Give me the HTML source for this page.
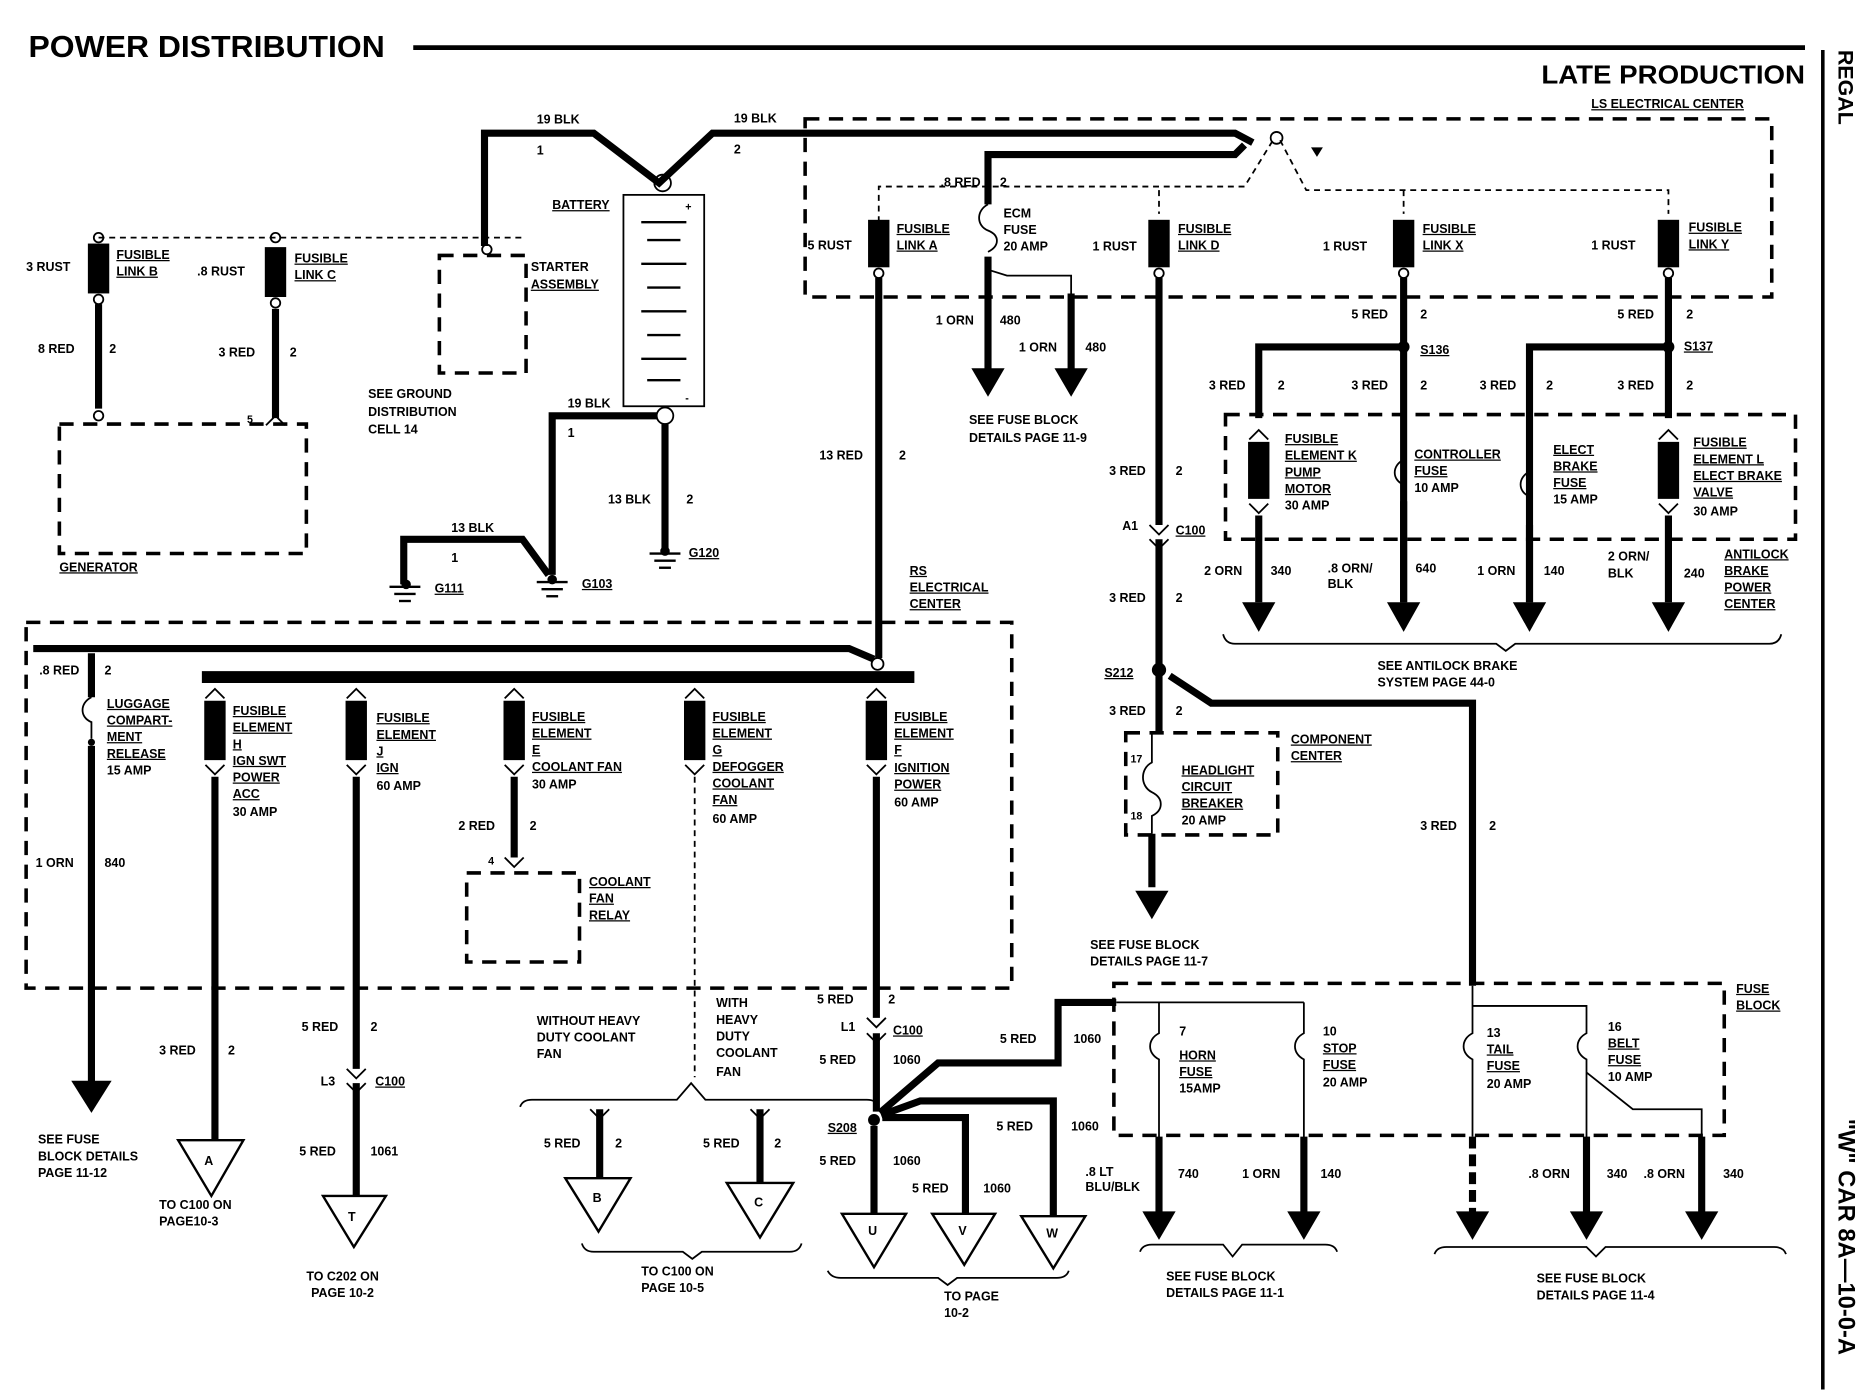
<!DOCTYPE html>
<html><head><meta charset="utf-8"><style>
html,body{margin:0;padding:0;background:#fff}
svg{display:block}
text{font-family:"Liberation Sans",sans-serif;font-weight:bold;fill:#000}
.s{font-size:10.5px}
.t{stroke:#000;stroke-width:6;fill:none}
.n{stroke:#000;stroke-width:1.5;fill:none}
.d{stroke:#000;stroke-width:3;fill:none;stroke-dasharray:12 8}
.dn{stroke:#000;stroke-width:1.5;fill:none;stroke-dasharray:5 4}
</style></head><body>
<svg width="1862" height="1392" viewBox="0 0 1568 1168" xmlns="http://www.w3.org/2000/svg">
<rect width="1568" height="1168" fill="#fff"/>
<text x="24" y="46" font-size="26" textLength="300" lengthAdjust="spacingAndGlyphs">POWER DISTRIBUTION</text>
<line x1="348" y1="38" x2="1520" y2="38" stroke="#000" stroke-width="4"/>
<text x="1298" y="68" font-size="22" textLength="222" lengthAdjust="spacingAndGlyphs">LATE PRODUCTION</text>
<text x="1340" y="89" class="s" text-decoration="underline">LS ELECTRICAL CENTER</text>
<line x1="1535" y1="40" x2="1535" y2="1168" stroke="#000" stroke-width="3"/>
<text transform="translate(1548,40) rotate(90)" font-size="18">REGAL</text>
<text transform="translate(1548,940) rotate(90)" font-size="20">"W" CAR 8A—10-0-A</text>

<!-- LS center box -->
<rect x="678" y="98" width="814" height="150" class="d"/>
<path class="t" d="M408,205 V110 H500 L555,152 L600,110 H1040 L1055,118"/>
<path class="t" d="M1048,120 L1040,128 H832 V170"/>
<text x="452" y="102" class="s">19 BLK</text><text x="452" y="128" class="s">1</text>
<text x="618" y="101" class="s">19 BLK</text><text x="618" y="127" class="s">2</text>
<circle cx="1075" cy="114" r="5" class="n" fill="#fff"/>
<path class="dn" d="M740,185 V155 H1048 L1072,116 M1078,116 L1100,158 H1405 V178 M976,158 V178 M1182,158 V178"/>
<polygon points="1104,122 1114,122 1109,130" fill="#000"/>
<text x="792" y="155" class="s">.8 RED</text><text x="842" y="155" class="s">2</text>

<!-- Battery -->
<rect x="525" y="162" width="68" height="178" class="n" stroke-width="3"/>
<circle cx="558" cy="152" r="7" class="n" fill="#fff" stroke-width="2"/>
<circle cx="560" cy="348" r="7" class="n" fill="#fff" stroke-width="2"/>
<g stroke="#000" stroke-width="2">
<line x1="540" y1="185" x2="578" y2="185"/><line x1="545" y1="200" x2="573" y2="200"/>
<line x1="540" y1="220" x2="578" y2="220"/><line x1="545" y1="240" x2="573" y2="240"/>
<line x1="540" y1="260" x2="578" y2="260"/><line x1="545" y1="280" x2="573" y2="280"/>
<line x1="540" y1="300" x2="578" y2="300"/><line x1="545" y1="318" x2="573" y2="318"/>
</g>
<text x="465" y="174" class="s" text-decoration="underline">BATTERY</text>
<text x="577" y="175" font-size="9">+</text><text x="577" y="336" font-size="9">-</text>
<path class="t" d="M560,355 V462"/>
<path class="t" d="M553,348 H465 V482"/>
<path class="t" d="M340,490 V452 H440 L462,482"/>
<text x="478" y="341" class="s">19 BLK</text><text x="478" y="366" class="s">1</text>
<text x="512" y="422" class="s">13 BLK</text><text x="578" y="422" class="s">2</text>
<text x="380" y="446" class="s">13 BLK</text><text x="380" y="471" class="s">1</text>
<g stroke="#000" stroke-width="2">
<line x1="547" y1="464" x2="573" y2="464"/><line x1="551" y1="470" x2="569" y2="470"/><line x1="555" y1="476" x2="565" y2="476"/>
<line x1="452" y1="488" x2="478" y2="488"/><line x1="456" y1="494" x2="474" y2="494"/><line x1="460" y1="500" x2="470" y2="500"/>
<line x1="328" y1="492" x2="354" y2="492"/><line x1="332" y1="498" x2="350" y2="498"/><line x1="336" y1="504" x2="346" y2="504"/>
</g>
<circle cx="560" cy="462" r="4" fill="#000"/><circle cx="465" cy="486" r="4" fill="#000"/><circle cx="342" cy="490" r="4" fill="#000"/>
<text x="580" y="467" class="s" text-decoration="underline">G120</text>
<text x="490" y="493" class="s" text-decoration="underline">G103</text>
<text x="366" y="497" class="s" text-decoration="underline">G111</text>

<!-- left top -->
<path class="dn" d="M83,198 H440"/>
<circle cx="83" cy="198" r="4" fill="#fff" class="n"/><circle cx="232" cy="198" r="4" fill="#fff" class="n"/><circle cx="410" cy="208" r="4" fill="#fff" class="n"/>
<rect x="74" y="203" width="18" height="42" fill="#000"/><rect x="223" y="206" width="18" height="42" fill="#000"/>
<circle cx="83" cy="250" r="4" fill="#fff" class="n"/><circle cx="232" cy="253" r="4" fill="#fff" class="n"/>
<path class="t" d="M83,254 V342 M232,258 V350"/>
<circle cx="83" cy="348" r="4" fill="#fff" class="n"/>
<path class="n" stroke-width="2" d="M224,356 L232,348 L240,356"/>
<text x="22" y="226" class="s">3 RUST</text><text x="98" y="216" class="s" text-decoration="underline">FUSIBLE</text><text x="98" y="230" class="s" text-decoration="underline">LINK B</text>
<text x="166" y="230" class="s">.8 RUST</text><text x="248" y="219" class="s" text-decoration="underline">FUSIBLE</text><text x="248" y="233" class="s" text-decoration="underline">LINK C</text>
<text x="32" y="295" class="s">8 RED</text><text x="92" y="295" class="s">2</text>
<text x="184" y="298" class="s">3 RED</text><text x="244" y="298" class="s">2</text>
<text x="208" y="354" font-size="9">5</text>
<rect x="370" y="213" width="73" height="99" class="d"/>
<text x="447" y="226" class="s">STARTER</text><text x="447" y="241" class="s" text-decoration="underline">ASSEMBLY</text>
<text x="310" y="333" class="s">SEE GROUND</text><text x="310" y="348" class="s">DISTRIBUTION</text><text x="310" y="363" class="s">CELL 14</text>
<rect x="50" y="355" width="208" height="109" class="d"/>
<text x="50" y="479" class="s" text-decoration="underline">GENERATOR</text>

<!-- Link A / ECM -->
<rect x="731" y="183" width="18" height="40" fill="#000"/>
<circle cx="740" cy="228" r="4" fill="#fff" class="n"/>
<path class="t" d="M740,232 V552"/>
<text x="680" y="208" class="s">5 RUST</text><text x="755" y="194" class="s" text-decoration="underline">FUSIBLE</text><text x="755" y="208" class="s" text-decoration="underline">LINK A</text>
<path class="n" stroke-width="2" d="M832,170 C822,175 822,188 832,192 C842,196 842,205 832,210"/>
<text x="845" y="181" class="s">ECM</text><text x="845" y="195" class="s">FUSE</text><text x="845" y="209" class="s">20 AMP</text>
<path class="t" d="M832,214 V312"/><path class="n" d="M832,225 L848,230 H902 V250"/><path class="t" d="M902,245 V312"/>
<polygon points="818,308 846,308 832,332" fill="#000"/><polygon points="888,308 916,308 902,332" fill="#000"/>
<text x="788" y="271" class="s">1 ORN</text><text x="842" y="271" class="s">480</text>
<text x="858" y="294" class="s">1 ORN</text><text x="914" y="294" class="s">480</text>
<text x="816" y="355" class="s">SEE FUSE BLOCK</text><text x="816" y="370" class="s">DETAILS PAGE 11-9</text>
<text x="690" y="385" class="s">13 RED</text><text x="757" y="385" class="s">2</text>

<!-- Link D column -->
<rect x="967" y="183" width="18" height="40" fill="#000"/>
<circle cx="976" cy="228" r="4" fill="#fff" class="n"/>
<text x="920" y="209" class="s">1 RUST</text><text x="992" y="194" class="s" text-decoration="underline">FUSIBLE</text><text x="992" y="208" class="s" text-decoration="underline">LINK D</text>
<path class="t" d="M976,232 V440 M976,452 V615 M970,700 V745"/>
<path class="n" stroke-width="2" d="M968,440 L976,448 L984,440 M968,452 L976,460 L984,452"/>
<text x="934" y="398" class="s">3 RED</text><text x="990" y="398" class="s">2</text>
<text x="945" y="444" class="s">A1</text><text x="990" y="448" class="s" text-decoration="underline">C100</text>
<text x="934" y="505" class="s">3 RED</text><text x="990" y="505" class="s">2</text>
<circle cx="976" cy="562" r="6" fill="#000"/>
<text x="930" y="568" class="s" text-decoration="underline">S212</text>
<text x="934" y="600" class="s">3 RED</text><text x="990" y="600" class="s">2</text>
<rect x="948" y="615" width="128" height="86" class="d"/>
<path class="n" stroke-width="2" d="M970,615 V640 C960,645 960,660 970,665 C980,670 980,680 970,685 V700"/>
<text x="952" y="640" font-size="9">17</text><text x="952" y="688" font-size="9">18</text>
<text x="995" y="650" class="s" text-decoration="underline">HEADLIGHT</text><text x="995" y="664" class="s" text-decoration="underline">CIRCUIT</text><text x="995" y="678" class="s" text-decoration="underline">BREAKER</text><text x="995" y="692" class="s">20 AMP</text>
<text x="1087" y="624" class="s" text-decoration="underline">COMPONENT</text><text x="1087" y="638" class="s" text-decoration="underline">CENTER</text>
<polygon points="956,748 984,748 970,772" fill="#000"/>
<text x="918" y="797" class="s">SEE FUSE BLOCK</text><text x="918" y="811" class="s">DETAILS PAGE 11-7</text>
<path class="t" d="M985,567 L1020,590 H1240 V828"/>
<text x="1196" y="697" class="s">3 RED</text><text x="1254" y="697" class="s">2</text>

<!-- Link X / Y -->
<rect x="1173" y="183" width="18" height="40" fill="#000"/><rect x="1396" y="183" width="18" height="40" fill="#000"/>
<circle cx="1182" cy="228" r="4" fill="#fff" class="n"/><circle cx="1405" cy="228" r="4" fill="#fff" class="n"/>
<text x="1114" y="209" class="s">1 RUST</text><text x="1198" y="194" class="s" text-decoration="underline">FUSIBLE</text><text x="1198" y="208" class="s" text-decoration="underline">LINK X</text>
<text x="1340" y="208" class="s">1 RUST</text><text x="1422" y="193" class="s" text-decoration="underline">FUSIBLE</text><text x="1422" y="207" class="s" text-decoration="underline">LINK Y</text>
<path class="t" d="M1182,232 V505 M1060,350 V290 H1182 M1405,232 V350 M1288,505 V290 H1405"/>
<circle cx="1182" cy="290" r="5" fill="#000"/><circle cx="1405" cy="290" r="5" fill="#000"/>
<text x="1138" y="266" class="s">5 RED</text><text x="1196" y="266" class="s">2</text>
<text x="1362" y="266" class="s">5 RED</text><text x="1420" y="266" class="s">2</text>
<text x="1196" y="296" class="s" text-decoration="underline">S136</text><text x="1418" y="293" class="s" text-decoration="underline">S137</text>
<text x="1018" y="326" class="s">3 RED</text><text x="1076" y="326" class="s">2</text>
<text x="1138" y="326" class="s">3 RED</text><text x="1196" y="326" class="s">2</text>
<text x="1246" y="326" class="s">3 RED</text><text x="1302" y="326" class="s">2</text>
<text x="1362" y="326" class="s">3 RED</text><text x="1420" y="326" class="s">2</text>
<rect x="1032" y="347" width="480" height="105" class="d"/>
<rect x="1051" y="370" width="18" height="48" fill="#000"/><rect x="1396" y="370" width="18" height="48" fill="#000"/>
<path class="n" stroke-width="2" d="M1052,368 L1060,360 L1068,368 M1052,422 L1060,430 L1068,422 M1397,368 L1405,360 L1413,368 M1397,422 L1405,430 L1413,422"/>
<path class="n" stroke-width="2" d="M1182,355 V385 C1172,390 1172,402 1182,406 V420 M1288,355 V395 C1278,400 1278,412 1288,416 V440"/>
<path class="t" d="M1060,432 V505 M1182,420 V505 M1288,440 V505 M1405,432 V505"/>
<polygon points="1046,505 1074,505 1060,530" fill="#000"/><polygon points="1168,505 1196,505 1182,530" fill="#000"/>
<polygon points="1274,505 1302,505 1288,530" fill="#000"/><polygon points="1391,505 1419,505 1405,530" fill="#000"/>
<text x="1082" y="371" class="s" text-decoration="underline">FUSIBLE</text><text x="1082" y="385" class="s" text-decoration="underline">ELEMENT K</text><text x="1082" y="399" class="s" text-decoration="underline">PUMP</text><text x="1082" y="413" class="s" text-decoration="underline">MOTOR</text><text x="1082" y="427" class="s">30 AMP</text>
<text x="1191" y="384" class="s" text-decoration="underline">CONTROLLER</text><text x="1191" y="398" class="s" text-decoration="underline">FUSE</text><text x="1191" y="412" class="s">10 AMP</text>
<text x="1308" y="380" class="s" text-decoration="underline">ELECT</text><text x="1308" y="394" class="s" text-decoration="underline">BRAKE</text><text x="1308" y="408" class="s" text-decoration="underline">FUSE</text><text x="1308" y="422" class="s">15 AMP</text>
<text x="1426" y="374" class="s" text-decoration="underline">FUSIBLE</text><text x="1426" y="388" class="s" text-decoration="underline">ELEMENT L</text><text x="1426" y="402" class="s" text-decoration="underline">ELECT BRAKE</text><text x="1426" y="416" class="s" text-decoration="underline">VALVE</text><text x="1426" y="432" class="s">30 AMP</text>
<text x="1014" y="482" class="s">2 ORN</text><text x="1070" y="482" class="s">340</text>
<text x="1118" y="480" class="s">.8 ORN/</text><text x="1118" y="493" class="s">BLK</text><text x="1192" y="480" class="s">640</text>
<text x="1244" y="482" class="s">1 ORN</text><text x="1300" y="482" class="s">140</text>
<text x="1354" y="470" class="s">2 ORN/</text><text x="1354" y="484" class="s">BLK</text><text x="1418" y="484" class="s">240</text>
<text x="1452" y="468" class="s" text-decoration="underline">ANTILOCK</text><text x="1452" y="482" class="s" text-decoration="underline">BRAKE</text><text x="1452" y="496" class="s" text-decoration="underline">POWER</text><text x="1452" y="510" class="s" text-decoration="underline">CENTER</text>
<path class="n" stroke-width="2" d="M1030,532 Q1032,540 1040,540 H1260 L1268,546 L1276,540 H1490 Q1498,540 1500,532"/>
<text x="1160" y="562" class="s">SEE ANTILOCK BRAKE</text><text x="1160" y="576" class="s">SYSTEM PAGE 44-0</text>

<!-- RS center -->
<rect x="22" y="522" width="830" height="308" class="d"/>
<text x="766" y="482" class="s" text-decoration="underline">RS</text><text x="766" y="496" class="s" text-decoration="underline">ELECTRICAL</text><text x="766" y="510" class="s" text-decoration="underline">CENTER</text>
<path class="t" d="M28,544 H715 L736,553"/>
<circle cx="739" cy="557" r="5" fill="#fff" class="n"/>
<path d="M170,568 H770" stroke="#000" stroke-width="10"/>
<text x="33" y="566" class="s">.8 RED</text><text x="88" y="566" class="s">2</text>
<path class="t" d="M77,548 V585"/>
<path class="n" stroke-width="2" d="M77,585 C67,590 67,602 77,606 V620"/>
<circle cx="77" cy="623" r="3" fill="#000"/>
<path class="t" d="M77,626 V910"/><polygon points="60,908 94,908 77,935" fill="#000"/>
<text x="90" y="594" class="s" text-decoration="underline">LUGGAGE</text><text x="90" y="608" class="s" text-decoration="underline">COMPART-</text><text x="90" y="622" class="s" text-decoration="underline">MENT</text><text x="90" y="636" class="s" text-decoration="underline">RELEASE</text><text x="90" y="650" class="s">15 AMP</text>
<text x="30" y="728" class="s">1 ORN</text><text x="88" y="728" class="s">840</text>
<text x="32" y="961" class="s">SEE FUSE</text><text x="32" y="975" class="s">BLOCK DETAILS</text><text x="32" y="989" class="s">PAGE 11-12</text>
<g fill="#000"><rect x="172" y="588" width="18" height="50"/><rect x="291" y="588" width="18" height="50"/><rect x="424" y="588" width="18" height="50"/><rect x="576" y="588" width="18" height="50"/><rect x="729" y="588" width="18" height="50"/></g>
<path class="n" stroke-width="2" d="M173,586 L181,578 L189,586 M173,642 L181,650 L189,642 M292,586 L300,578 L308,586 M292,642 L300,650 L308,642 M425,586 L433,578 L441,586 M425,642 L433,650 L441,642 M577,586 L585,578 L593,586 M577,642 L585,650 L593,642 M730,586 L738,578 L746,586 M730,642 L738,650 L746,642"/>
<text x="196" y="600" class="s" text-decoration="underline">FUSIBLE</text><text x="196" y="614" class="s" text-decoration="underline">ELEMENT</text><text x="196" y="628" class="s" text-decoration="underline">H</text><text x="196" y="642" class="s" text-decoration="underline">IGN SWT</text><text x="196" y="656" class="s" text-decoration="underline">POWER</text><text x="196" y="670" class="s" text-decoration="underline">ACC</text><text x="196" y="685" class="s">30 AMP</text>
<text x="317" y="606" class="s" text-decoration="underline">FUSIBLE</text><text x="317" y="620" class="s" text-decoration="underline">ELEMENT</text><text x="317" y="634" class="s" text-decoration="underline">J</text><text x="317" y="648" class="s" text-decoration="underline">IGN</text><text x="317" y="663" class="s">60 AMP</text>
<text x="448" y="605" class="s" text-decoration="underline">FUSIBLE</text><text x="448" y="619" class="s" text-decoration="underline">ELEMENT</text><text x="448" y="633" class="s" text-decoration="underline">E</text><text x="448" y="647" class="s" text-decoration="underline">COOLANT  FAN</text><text x="448" y="662" class="s">30 AMP</text>
<text x="600" y="605" class="s" text-decoration="underline">FUSIBLE</text><text x="600" y="619" class="s" text-decoration="underline">ELEMENT</text><text x="600" y="633" class="s" text-decoration="underline">G</text><text x="600" y="647" class="s" text-decoration="underline">DEFOGGER</text><text x="600" y="661" class="s" text-decoration="underline">COOLANT</text><text x="600" y="675" class="s" text-decoration="underline">FAN</text><text x="600" y="691" class="s">60 AMP</text>
<text x="753" y="605" class="s" text-decoration="underline">FUSIBLE</text><text x="753" y="619" class="s" text-decoration="underline">ELEMENT</text><text x="753" y="633" class="s" text-decoration="underline">F</text><text x="753" y="648" class="s" text-decoration="underline">IGNITION</text><text x="753" y="662" class="s" text-decoration="underline">POWER</text><text x="753" y="677" class="s">60 AMP</text>
<!-- H -->
<path class="t" d="M181,652 V958"/>
<polygon points="150,958 205,958 178,1005" fill="#fff" stroke="#000" stroke-width="2"/><text x="172" y="979" class="s">A</text>
<text x="134" y="886" class="s">3 RED</text><text x="192" y="886" class="s">2</text>
<text x="134" y="1016" class="s">TO C100 ON</text><text x="134" y="1030" class="s">PAGE10-3</text>
<!-- J -->
<path class="t" d="M300,652 V898 M300,910 V1005"/>
<path class="n" stroke-width="2" d="M292,898 L300,906 L308,898 M292,910 L300,918 L308,910"/>
<polygon points="272,1005 325,1005 298,1048" fill="#fff" stroke="#000" stroke-width="2"/><text x="293" y="1026" class="s">T</text>
<text x="254" y="866" class="s">5 RED</text><text x="312" y="866" class="s">2</text>
<text x="270" y="912" class="s">L3</text><text x="316" y="912" class="s" text-decoration="underline">C100</text>
<text x="252" y="971" class="s">5 RED</text><text x="312" y="971" class="s">1061</text>
<text x="258" y="1076" class="s">TO C202 ON</text><text x="262" y="1090" class="s">PAGE 10-2</text>
<!-- E -->
<path class="t" d="M433,652 V720"/><path class="n" stroke-width="2" d="M425,720 L433,728 L441,720"/>
<text x="386" y="697" class="s">2 RED</text><text x="446" y="697" class="s">2</text><text x="411" y="726" font-size="9">4</text>
<rect x="393" y="733" width="95" height="75" class="d"/>
<text x="496" y="744" class="s" text-decoration="underline">COOLANT</text><text x="496" y="758" class="s" text-decoration="underline">FAN</text><text x="496" y="772" class="s" text-decoration="underline">RELAY</text>
<!-- G -->
<path class="dn" d="M585,652 V905"/>
<path class="n" stroke-width="2" d="M438,930 Q440,924 448,924 H570 L582,910 L594,924 H730 Q738,924 740,930"/>
<text x="452" y="861" class="s">WITHOUT HEAVY</text><text x="452" y="875" class="s">DUTY COOLANT</text><text x="452" y="889" class="s">FAN</text>
<text x="603" y="846" class="s">WITH</text><text x="603" y="860" class="s">HEAVY</text><text x="603" y="874" class="s">DUTY</text><text x="603" y="888" class="s">COOLANT</text><text x="603" y="904" class="s">FAN</text>
<path class="t" d="M505,932 V992 M640,932 V994"/>
<path class="n" stroke-width="2" d="M497,932 L505,940 L513,932 M632,932 L640,940 L648,932"/>
<polygon points="476,990 531,990 504,1035" fill="#fff" stroke="#000" stroke-width="2"/><text x="499" y="1010" class="s">B</text>
<polygon points="612,994 668,994 640,1040" fill="#fff" stroke="#000" stroke-width="2"/><text x="635" y="1014" class="s">C</text>
<text x="458" y="964" class="s">5 RED</text><text x="518" y="964" class="s">2</text>
<text x="592" y="964" class="s">5 RED</text><text x="652" y="964" class="s">2</text>
<path class="n" stroke-width="2" d="M490,1045 Q492,1052 500,1052 H575 L583,1058 L591,1052 H665 Q673,1052 675,1045"/>
<text x="540" y="1072" class="s">TO C100 ON</text><text x="540" y="1086" class="s">PAGE 10-5</text>
<!-- F -->
<path class="t" d="M738,652 V855 M738,868 V934 M736,946 V1022"/>
<path class="n" stroke-width="2" d="M730,855 L738,863 L746,855 M730,868 L738,876 L746,868"/>
<text x="688" y="843" class="s">5 RED</text><text x="748" y="843" class="s">2</text>
<text x="708" y="866" class="s">L1</text><text x="752" y="869" class="s" text-decoration="underline">C100</text>
<text x="690" y="894" class="s">5 RED</text><text x="752" y="894" class="s">1060</text>
<circle cx="736" cy="941" r="5" fill="#000"/>
<text x="697" y="951" class="s" text-decoration="underline">S208</text>
<path class="t" d="M741,935 L790,893 H891 V842 H940"/>
<path class="t" d="M742,937 L775,925 H887 V1022"/>
<path class="t" d="M743,939 H813 V1022"/>
<polygon points="709,1020 763,1020 736,1065" fill="#fff" stroke="#000" stroke-width="2"/><text x="731" y="1038" class="s">U</text>
<polygon points="785,1020 838,1020 812,1063" fill="#fff" stroke="#000" stroke-width="2"/><text x="807" y="1038" class="s">V</text>
<polygon points="860,1022 914,1022 887,1066" fill="#fff" stroke="#000" stroke-width="2"/><text x="881" y="1040" class="s">W</text>
<text x="842" y="876" class="s">5 RED</text><text x="904" y="876" class="s">1060</text>
<text x="839" y="950" class="s">5 RED</text><text x="902" y="950" class="s">1060</text>
<text x="690" y="979" class="s">5 RED</text><text x="752" y="979" class="s">1060</text>
<text x="768" y="1002" class="s">5 RED</text><text x="828" y="1002" class="s">1060</text>
<path class="n" stroke-width="2" d="M697,1068 Q700,1074 708,1074 H790 L798,1080 L806,1074 H890 Q898,1074 900,1068"/>
<text x="795" y="1093" class="s">TO PAGE</text><text x="795" y="1107" class="s">10-2</text>

<!-- fuse block -->
<rect x="938" y="826" width="514" height="128" class="d"/>
<text x="1462" y="834" class="s" text-decoration="underline">FUSE</text><text x="1462" y="848" class="s" text-decoration="underline">BLOCK</text>
<path class="n" stroke-width="2" d="M940,842 H1098 M976,842 V868 C966,873 966,885 976,890 V960 M1098,842 V868 C1088,873 1088,885 1098,890 V960 M1240,828 V868 C1230,873 1230,885 1240,890 V955 M1240,845 H1336 V868 C1326,873 1326,885 1336,890 V960 M1336,901 L1375,932 H1433 V960"/>
<text x="993" y="870" class="s">7</text><text x="993" y="890" class="s" text-decoration="underline">HORN</text><text x="993" y="904" class="s" text-decoration="underline">FUSE</text><text x="993" y="918" class="s">15AMP</text>
<text x="1114" y="870" class="s">10</text><text x="1114" y="884" class="s" text-decoration="underline">STOP</text><text x="1114" y="898" class="s" text-decoration="underline">FUSE</text><text x="1114" y="913" class="s">20 AMP</text>
<text x="1252" y="871" class="s">13</text><text x="1252" y="885" class="s" text-decoration="underline">TAIL</text><text x="1252" y="899" class="s" text-decoration="underline">FUSE</text><text x="1252" y="914" class="s">20 AMP</text>
<text x="1354" y="866" class="s">16</text><text x="1354" y="880" class="s" text-decoration="underline">BELT</text><text x="1354" y="894" class="s" text-decoration="underline">FUSE</text><text x="1354" y="908" class="s">10 AMP</text>
<path class="t" d="M976,955 V1020 M1098,955 V1020 M1336,955 V1020 M1433,955 V1020"/>
<path d="M1240,955 V1020" stroke="#000" stroke-width="6" stroke-dasharray="10 5"/>
<polygon points="962,1018 990,1018 976,1042" fill="#000"/><polygon points="1084,1018 1112,1018 1098,1042" fill="#000"/>
<polygon points="1226,1018 1254,1018 1240,1042" fill="#000"/><polygon points="1322,1018 1350,1018 1336,1042" fill="#000"/><polygon points="1419,1018 1447,1018 1433,1042" fill="#000"/>
<text x="914" y="988" class="s">.8 LT</text><text x="914" y="1001" class="s">BLU/BLK</text><text x="992" y="990" class="s">740</text>
<text x="1046" y="990" class="s">1 ORN</text><text x="1112" y="990" class="s">140</text>
<text x="1287" y="990" class="s">.8 ORN</text><text x="1353" y="990" class="s">340</text><text x="1384" y="990" class="s">.8 ORN</text><text x="1451" y="990" class="s">340</text>
<path class="n" stroke-width="2" d="M960,1052 Q962,1046 970,1046 H1030 L1038,1056 L1046,1046 H1116 Q1124,1046 1126,1052"/>
<text x="982" y="1076" class="s">SEE FUSE BLOCK</text><text x="982" y="1090" class="s">DETAILS PAGE 11-1</text>
<path class="n" stroke-width="2" d="M1208,1054 Q1210,1048 1218,1048 H1336 L1344,1056 L1352,1048 H1494 Q1502,1048 1504,1054"/>
<text x="1294" y="1078" class="s">SEE FUSE BLOCK</text><text x="1294" y="1092" class="s">DETAILS PAGE 11-4</text>
</svg>
</body></html>
